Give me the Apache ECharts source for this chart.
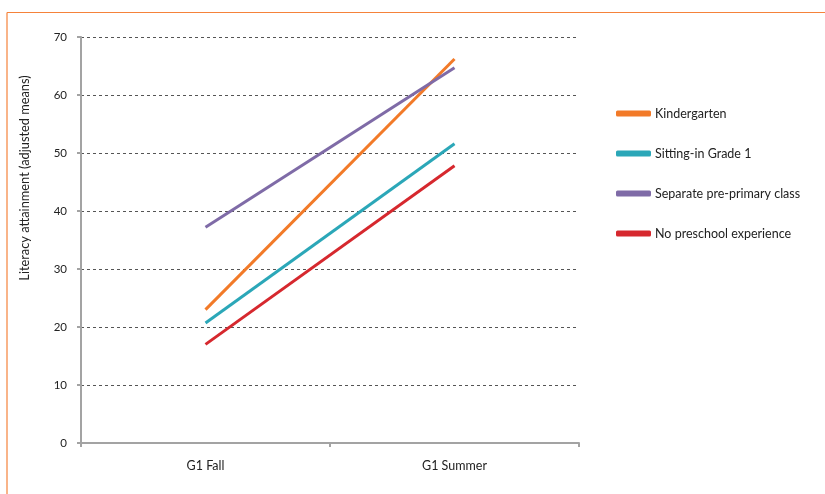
<!DOCTYPE html>
<html>
<head>
<meta charset="utf-8">
<script src="https://cdn.jsdelivr.net/npm/echarts@6/dist/echarts.min.js"></script>
<style>
html,body{margin:0;padding:0;background:#fff;}
#chart{width:825px;height:494px;}
</style>
</head>
<body>
<div id="chart"></div>
<script>
var categories = ['G1 Fall', 'G1 Summer'];
var kindergarten = [23.0, 66.2];
var sittingIn = [20.7, 51.6];
var separate = [37.2, 64.7];
var noPreschool = [17.0, 47.8];
var seriesNames = ['Kindergarten', 'Sitting-in Grade 1', 'Separate pre-primary class', 'No preschool experience'];
var yTitle = 'Literacy attainment (adjusted means)';

var colors = ['#f27a28', '#2ba7b8', '#7f6ba7', '#d6282e'];
var values = [kindergarten, sittingIn, separate, noPreschool];
var font = 'Lato, "Open Sans", sans-serif';

var chart = echarts.init(document.getElementById('chart'), null, {renderer: 'canvas'});
chart.setOption({
  animation: false,
  backgroundColor: '#fff',
  textStyle: {fontFamily: font},
  grid: {left: 81, right: 246, top: 37, bottom: 51, containLabel: false},
  legend: {
    orient: 'vertical',
    left: 611,
    top: 102,
    itemWidth: 35,
    itemHeight: 6,
    itemGap: 27,
    icon: 'roundRect',
    textStyle: {fontFamily: font, fontSize: 12.5, color: '#222', padding: [0, 0, 0, -1]},
    data: seriesNames
  },
  xAxis: {
    type: 'category',
    data: categories,
    boundaryGap: true,
    axisLine: {lineStyle: {color: '#a3a3a3', width: 2}},
    axisTick: {show: true, length: 4, lineStyle: {color: '#a3a3a3', width: 2}},
    axisLabel: {margin: 16, fontSize: 12.5, color: '#222', fontFamily: font}
  },
  yAxis: {
    type: 'value',
    min: 0,
    max: 70,
    interval: 10,
    axisLine: {show: true, lineStyle: {color: '#a3a3a3', width: 2}},
    axisTick: {show: true, length: 4, lineStyle: {color: '#a3a3a3', width: 2}},
    axisLabel: {margin: 14, fontSize: 11.5, color: '#222', fontFamily: font},
    splitLine: {show: true, lineStyle: {color: '#555', width: 1, type: [3, 3]}}
  },
  series: seriesNames.map(function (name, i) {
    return {
      name: name,
      type: 'line',
      data: values[i],
      symbol: 'none',
      lineStyle: {color: colors[i], width: 3},
      itemStyle: {color: colors[i]}
    };
  }),
  graphic: [
    {type: 'line', shape: {x1: 7, y1: 12.5, x2: 825, y2: 12.5}, style: {stroke: '#f5823a', lineWidth: 1.2}, silent: true},
    {type: 'line', shape: {x1: 7, y1: 12.5, x2: 7, y2: 494}, style: {stroke: '#f5823a', lineWidth: 1.2}, silent: true},
    {
      type: 'text',
      x: 25, y: 178,
      rotation: Math.PI / 2,
      style: {text: yTitle, fontFamily: font, fontSize: 12.8, fill: '#222', align: 'center', verticalAlign: 'middle'},
      silent: true
    }
  ]
});
</script>
</body>
</html>
